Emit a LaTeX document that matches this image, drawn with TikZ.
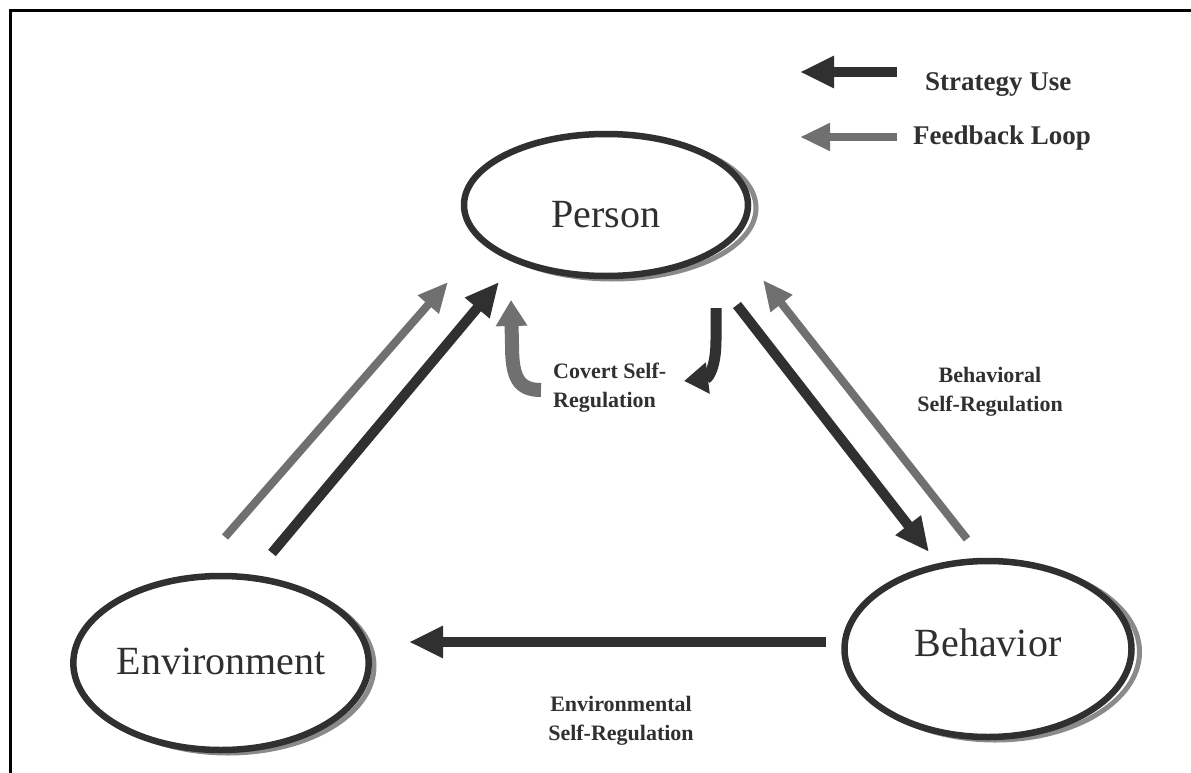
\documentclass[tikz,border=0pt]{standalone}
\usepackage{fontspec}
\setmainfont{Liberation Serif}
\usetikzlibrary{arrows.meta,shapes.geometric}
\definecolor{ink}{HTML}{303030}
\definecolor{fb}{HTML}{707070}
\definecolor{shade}{HTML}{8A8A8A}
\tikzset{
  oval/.style={ellipse, draw=ink, line width=6.5pt, fill=white, inner sep=0pt, text=ink, font=\fontsize{40}{42}\selectfont},
  ovalshadow/.style={ellipse, draw=shade, line width=5pt, inner sep=0pt},
  strat/.style={draw=ink, line width=10pt, -{Triangle[length=34pt,width=30pt]}},
  feed/.style={draw=fb, line width=8pt, -{Triangle[length=30pt,width=26pt]}},
  lab/.style={text=ink, font=\bfseries\fontsize{22}{29}\selectfont, align=center, inner sep=0pt},
  leg/.style={text=ink, font=\bfseries\fontsize{27}{29}\selectfont, anchor=west, inner sep=0pt},
}
\begin{document}
\begin{tikzpicture}[x=1pt,y=-1pt]
\useasboundingbox (0,0) rectangle (1191,773);
\fill[white] (0,0) rectangle (1191,773);
% frame
\draw[black, line width=3pt] (10,800) -- (10,11) -- (1200,11);

% shadows
\node[ovalshadow, minimum width=286pt, minimum height=142pt] at (613,208) {};
\node[ovalshadow, minimum width=289pt, minimum height=176pt] at (995,652) {};
\node[ovalshadow, minimum width=292pt, minimum height=174pt] at (228,666) {};

% main ellipses
\node[oval, minimum width=284pt, minimum height=142pt] (person) at (606,205) {\raisebox{-22pt}[0pt][0pt]{Person}};
\node[oval, minimum width=287pt, minimum height=176pt] (behavior) at (988,649) {\raisebox{-7pt}[0pt][0pt]{Behavior}};
\node[oval, minimum width=292pt, minimum height=174pt] (environment) at (221,663) {\raisebox{-11pt}[0pt][0pt]{Environment}};

% arrow end points
\coordinate (envF1) at (225,537);
\coordinate (perF1) at (448,282);
\coordinate (envS1) at (272,553);
\coordinate (perS1) at (499,282);
\coordinate (perS2) at (737,305);
\coordinate (behS2) at (929,552);
\coordinate (behF2) at (967,539);
\coordinate (perF2) at (763,280);
\coordinate (behS3) at (826,642);
\coordinate (envS3) at (409,642);

\draw[feed] (envF1) -- (perF1);
\draw[strat] (envS1) -- (perS1);
\draw[strat] (perS2) -- (behS2);
\draw[feed] (behF2) -- (perF2);
\draw[strat] (behS3) -- (envS3);

% covert self-regulation hooks
\coordinate (cvL0) at (541,390);
\coordinate (cvL1) at (511,300);
\draw[draw=fb, line width=14pt, -{Triangle[length=26pt,width=30pt]}]
  (cvL0) .. controls (518,390) and (512,377) .. (512,345) -- (cvL1);
\coordinate (cvR0) at (716,308);
\coordinate (cvR1) at (684,381);
\draw[draw=ink, line width=11pt, -{Triangle[length=24pt,width=30pt]}]
  (cvR0) -- (716,340) .. controls (716,368) and (708,378) .. (cvR1);

% labels
\node[lab, align=left, anchor=north west] (covert) at (553,363) {Covert Self-\\Regulation};
\node[lab] (behlab) at (990,392) {Behavioral\\Self-Regulation};
\node[lab] (envlab) at (621,721) {Environmental\\Self-Regulation};

% legend
\coordinate (legS0) at (897,72);
\coordinate (legS1) at (800,72);
\coordinate (legF0) at (897,137);
\coordinate (legF1) at (800,137);
\draw[strat] (legS0) -- (legS1);
\draw[feed] (legF0) -- (legF1);
\node[leg] (legSt) at (925,85) {Strategy Use};
\node[leg] (legFb) at (913,138) {Feedback Loop};
\end{tikzpicture}
\end{document}
